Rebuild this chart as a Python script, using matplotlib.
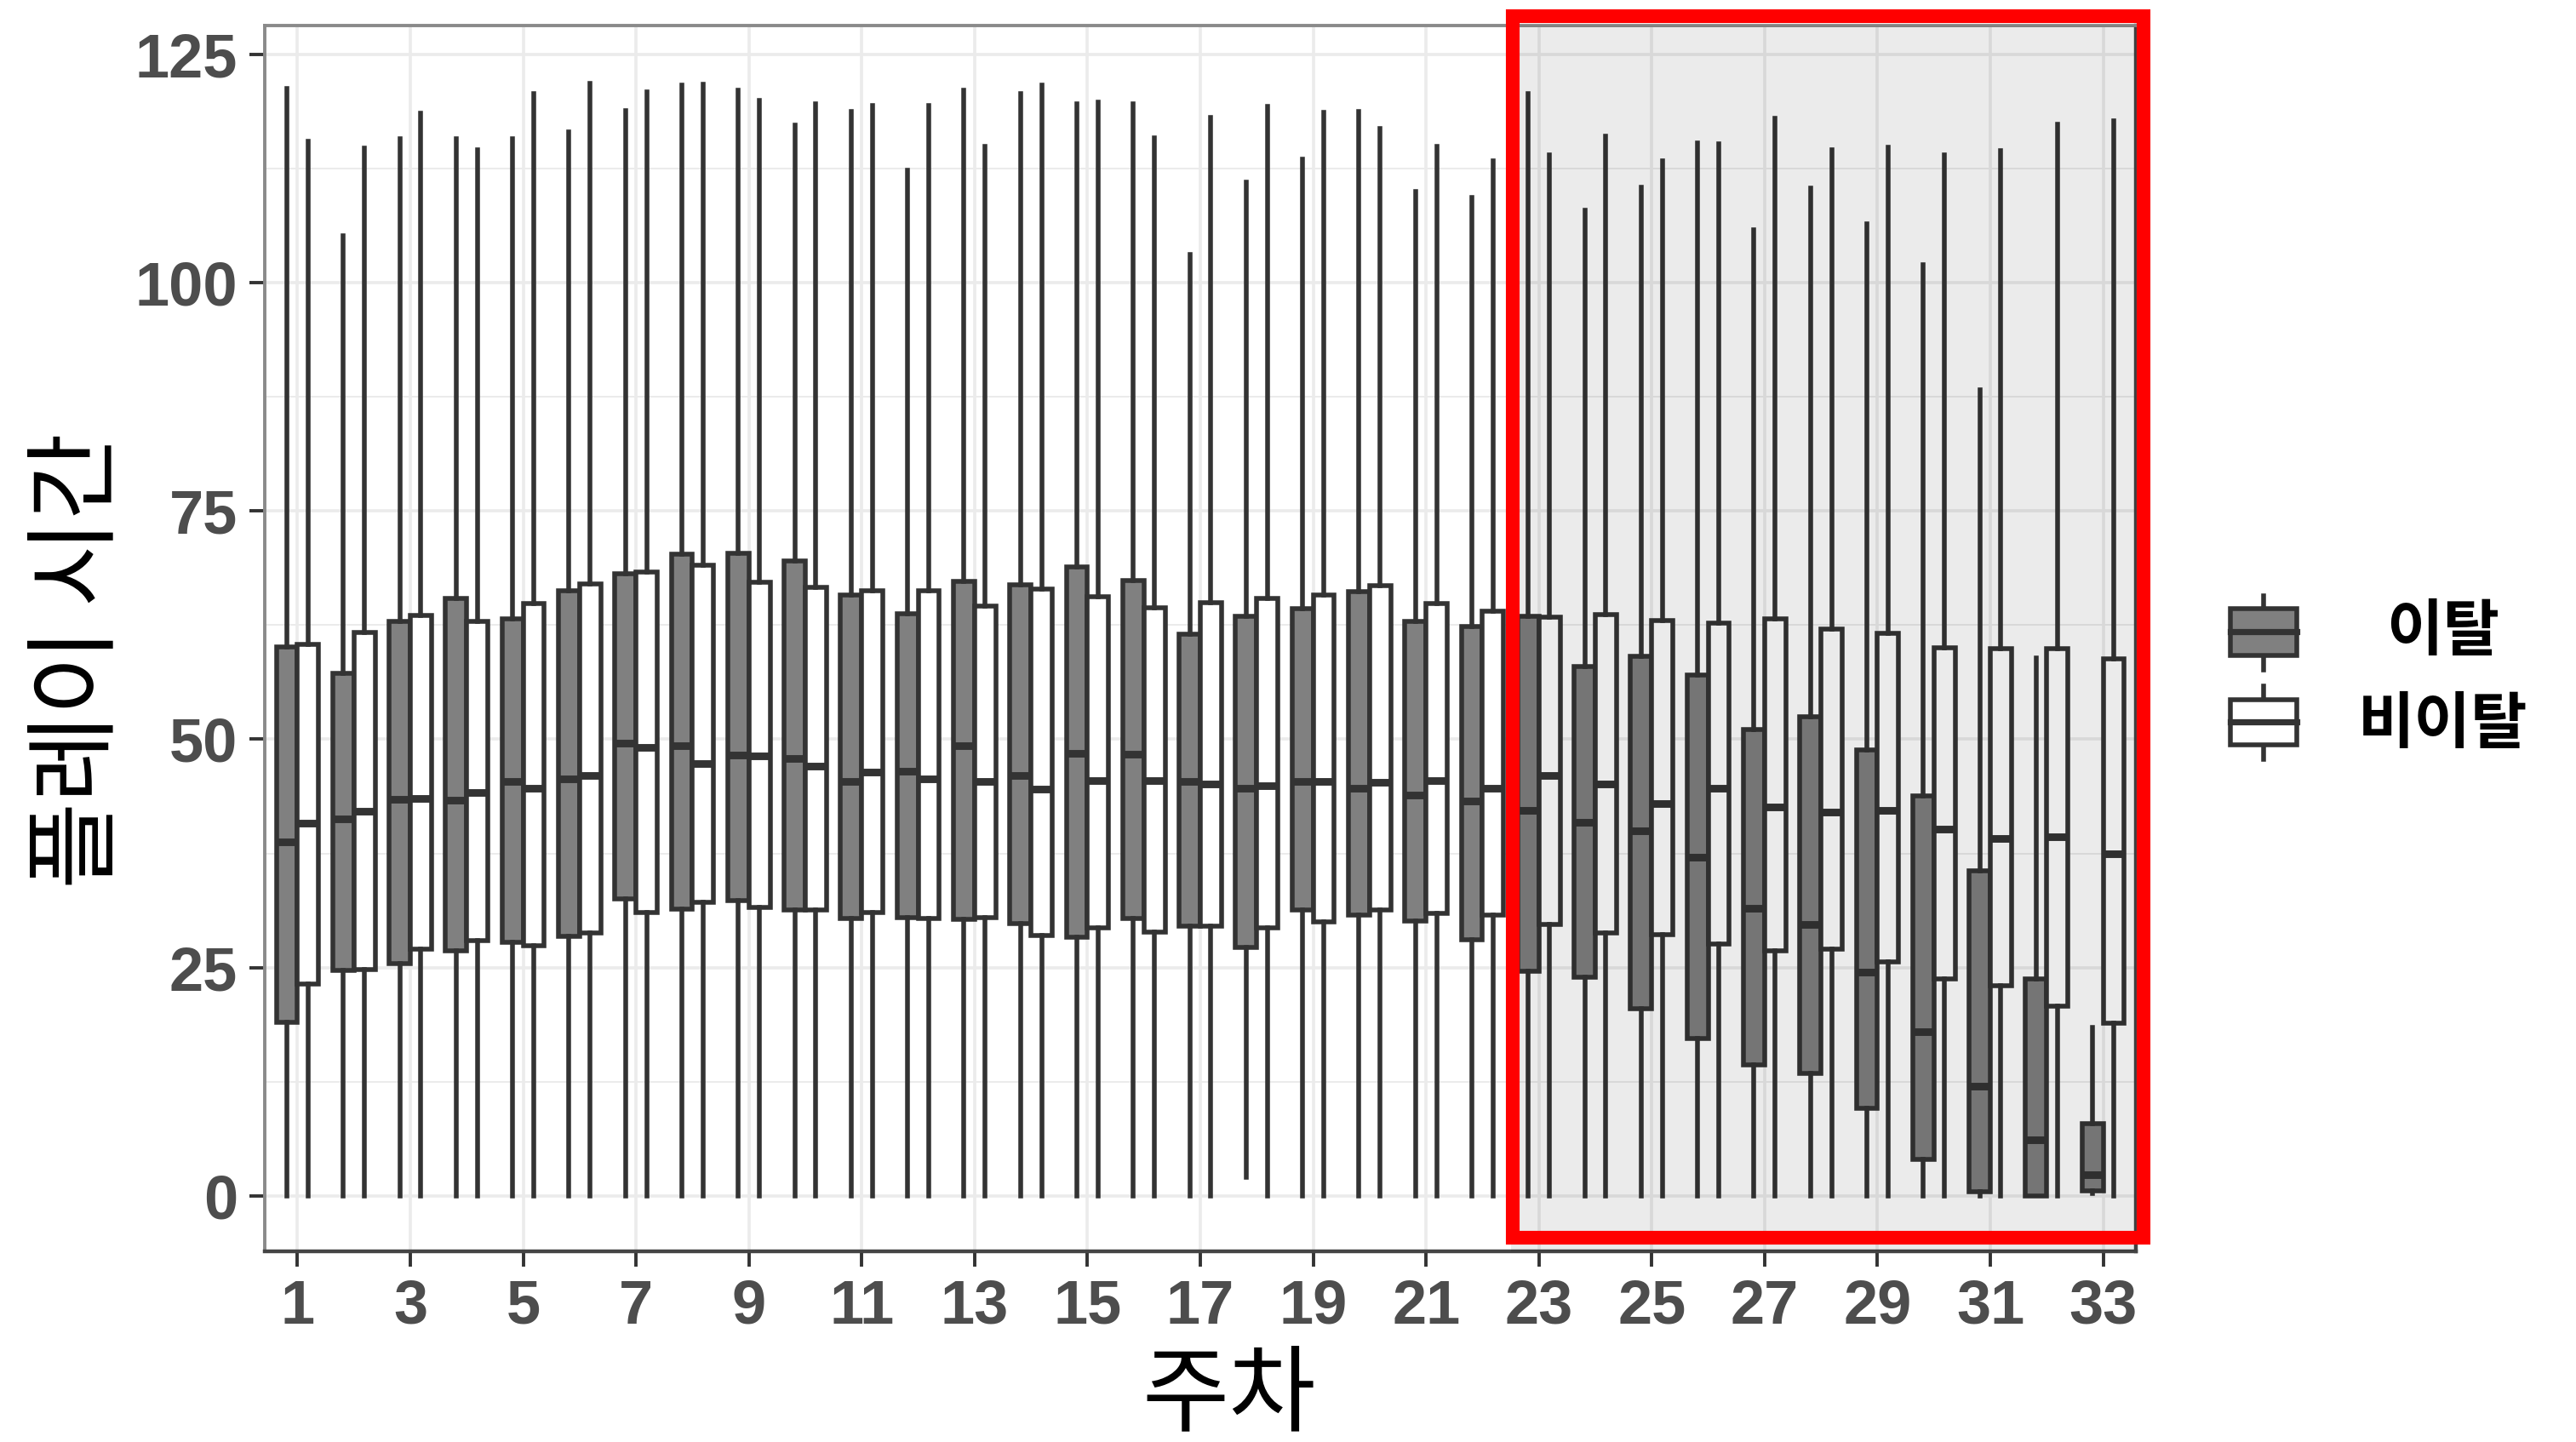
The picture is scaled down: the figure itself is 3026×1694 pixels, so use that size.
import matplotlib
matplotlib.use("Agg")
import matplotlib.pyplot as plt
from matplotlib import font_manager
from matplotlib.patches import Rectangle

# 주차별 플레이 시간 분포 (이탈 / 비이탈)
weeks = list(range(1, 34))
group_names = ["이탈", "비이탈"]

churn_hi = [121.3, 105.2, 115.8, 115.8, 115.8, 116.5, 118.9, 121.7, 121.1, 117.3, 118.8,
            112.3, 121.1, 120.7, 119.6, 119.6, 103.1, 111.0, 113.6, 118.8, 110.0, 109.4,
            120.7, 108.0, 110.5, 115.3, 105.8, 110.4, 106.5, 102.0, 88.3, 58.9, 18.4]
churn_q3 = [60.1, 57.2, 62.9, 65.4, 63.2, 66.3, 68.1, 70.3, 70.4, 69.5, 65.8,
            63.8, 67.3, 66.9, 68.9, 67.4, 61.5, 63.5, 64.3, 66.2, 62.9, 62.4,
            63.5, 58.0, 59.1, 57.0, 51.1, 52.5, 48.8, 43.8, 35.6, 23.7, 7.9]
churn_med = [38.8, 41.3, 43.4, 43.3, 45.4, 45.7, 49.6, 49.3, 48.3, 47.9, 45.4,
             46.5, 49.3, 46.0, 48.5, 48.4, 45.4, 44.6, 45.4, 44.6, 43.9, 43.2,
             42.2, 40.9, 40.0, 37.1, 31.5, 29.7, 24.5, 18.0, 12.0, 6.1, 2.3]
churn_q1 = [19.0, 24.7, 25.4, 26.8, 27.8, 28.4, 32.5, 31.4, 32.3, 31.3, 30.4,
            30.5, 30.3, 29.8, 28.3, 30.4, 29.5, 27.2, 31.3, 30.7, 30.1, 28.0,
            24.6, 23.9, 20.5, 17.2, 14.3, 13.4, 9.6, 4.0, 0.4, 0.0, 0.5]
churn_lo = [0, 0, 0, 0, 0, 0, 0, 0, 0, 0, 0,
            0, 0, 0, 0, 0, 0, 2.0, 0, 0, 0, 0,
            0, 0, 0, 0, 0, 0, 0, 0, 0, 0, 0.2]

stay_hi = [115.5, 114.8, 118.6, 114.6, 120.7, 121.9, 120.9, 121.8, 120.0, 119.6, 119.4,
           119.4, 115.0, 121.7, 119.8, 115.9, 118.1, 119.3, 118.7, 116.9, 115.0, 113.4,
           114.0, 116.1, 113.4, 115.2, 118.0, 114.6, 114.9, 114.0, 114.5, 117.4, 117.8]
stay_q3 = [60.4, 61.7, 63.6, 62.9, 64.9, 67.0, 68.3, 69.1, 67.2, 66.6, 66.3,
           66.3, 64.6, 66.5, 65.6, 64.4, 65.0, 65.4, 65.8, 66.8, 64.9, 64.0,
           63.4, 63.7, 63.0, 62.7, 63.2, 62.1, 61.6, 60.0, 59.9, 59.9, 58.8]
stay_med = [40.8, 42.1, 43.5, 44.2, 44.6, 46.0, 49.1, 47.3, 48.2, 47.1, 46.4,
            45.7, 45.4, 44.5, 45.5, 45.5, 45.1, 44.9, 45.4, 45.3, 45.5, 44.6,
            46.0, 45.1, 43.0, 44.6, 42.6, 42.0, 42.2, 40.2, 39.1, 39.3, 37.5]
stay_q1 = [23.2, 24.8, 27.0, 27.9, 27.4, 28.8, 31.0, 32.1, 31.6, 31.3, 31.0,
           30.4, 30.5, 28.5, 29.3, 28.9, 29.5, 29.3, 30.0, 31.3, 30.9, 30.7,
           29.7, 28.8, 28.6, 27.6, 26.8, 27.0, 25.6, 23.7, 23.0, 20.8, 18.9]
stay_lo = [0] * 33

x_ticks = list(range(1, 34, 2))
y_ticks = [0, 25, 50, 75, 100, 125]
highlight_from = 22.5

names = sorted({f.name for f in font_manager.fontManager.ttflist})
print([n for n in names if "Narrow" in n or "Condensed" in n or "Cond" in n])
if "Liberation Sans Narrow" in names:
    tick_font = "Liberation Sans Narrow"
elif "DejaVu Sans Condensed" in names:
    tick_font = "DejaVu Sans Condensed"
else:
    tick_font = "Liberation Sans"
kr_font = ["Noto Sans CJK KR", "DejaVu Sans"]

EDGE = "#333333"
W, H = 3026, 1694


def make_stats(lo, q1, med, q3, hi):
    return [dict(whislo=a, q1=b, med=c, q3=d, whishi=e, fliers=[])
            for a, b, c, d, e in zip(lo, q1, med, q3, hi)]


fig = plt.figure(figsize=(W / 200, H / 200), dpi=200)
ax = fig.add_axes([311 / W, 1 - 1470 / H, (2509 - 311) / W, (1470 - 30) / H])

common = dict(widths=0.375, patch_artist=True, showcaps=False, showfliers=False,
              medianprops=dict(color=EDGE, linewidth=3.2, solid_capstyle="butt"),
              whiskerprops=dict(color=EDGE, linewidth=2.0))
dodge = 0.1875
ax.bxp(make_stats(churn_lo, churn_q1, churn_med, churn_q3, churn_hi),
       positions=[w - dodge for w in weeks],
       boxprops=dict(facecolor="#808080", edgecolor=EDGE, linewidth=2.0), **common)
ax.bxp(make_stats(stay_lo, stay_q1, stay_med, stay_q3, stay_hi),
       positions=[w + dodge for w in weeks],
       boxprops=dict(facecolor="white", edgecolor=EDGE, linewidth=2.0), **common)

ax.set_xlim(0.42, 33.58)
ax.set_ylim(-6.1, 128.2)
ax.set_xticks(x_ticks)
ax.set_xticklabels([str(t) for t in x_ticks])
ax.set_yticks(y_ticks)
ax.set_yticks([12.5 + 25 * i for i in range(5)], minor=True)
ax.set_axisbelow(True)
ax.grid(which="major", color="#EBEBEB", linewidth=1.3)
ax.grid(which="minor", axis="y", color="#EBEBEB", linewidth=0.7)
ax.tick_params(which="major", direction="out", length=6.5, width=1.4, color=EDGE,
               labelcolor="#4D4D4D", labelsize=26, pad=5)
ax.tick_params(which="minor", length=0)
for lab in ax.get_xticklabels() + ax.get_yticklabels():
    lab.set_fontfamily(tick_font)
    lab.set_fontweight("bold")
for side in ["left", "top"]:
    ax.spines[side].set_color("#8A8A8A")
    ax.spines[side].set_linewidth(1.4)
for side in ["bottom", "right"]:
    ax.spines[side].set_color("#444444")
    ax.spines[side].set_linewidth(1.6)

# shaded late-week region, drawn over the boxes like ggplot annotate()
ax.axvspan(highlight_from, 34, color="black", alpha=0.08, linewidth=0, zorder=5)
ax.add_patch(Rectangle((22.53, -4.6), 33.71 - 22.53, 129.2 + 4.6, fill=False,
                       edgecolor="#FF0000", linewidth=5.8, joinstyle="miter",
                       clip_on=False, zorder=10))

fig.text(92 / W, 1 - 776 / H, "플레이 시간", rotation=90, ha="center", va="center",
         fontsize=40, family=kr_font, color="black")
fig.text(1444 / W, 1 - 1640 / H, "주차", ha="center", va="center",
         fontsize=40, family=kr_font, color="black")

# legend drawn by hand in pixel space
lax = fig.add_axes([0, 0, 1, 1])
lax.set_xlim(0, W)
lax.set_ylim(H, 0)
lax.axis("off")
keys = [("#808080", 715, 770, 700, 787, 743), ("white", 822, 875, 806, 892, 852)]
for name, (fc, top, bot, wtop, wbot, ty) in zip(group_names, keys):
    lax.plot([2659, 2659], [wtop, wbot], color=EDGE, linewidth=2.0)
    lax.add_patch(Rectangle((2620, top), 78, bot - top, facecolor=fc, edgecolor=EDGE,
                            linewidth=2.0, zorder=3))
    lax.plot([2620, 2698], [(top + bot) / 2] * 2, color=EDGE, linewidth=2.6, zorder=4)
    lax.text(2870, ty, name, ha="center", va="center", fontsize=26,
             fontweight="bold", family=kr_font, color="black")

fig.savefig("out.png", dpi=200, facecolor="white")
print(tick_font)
